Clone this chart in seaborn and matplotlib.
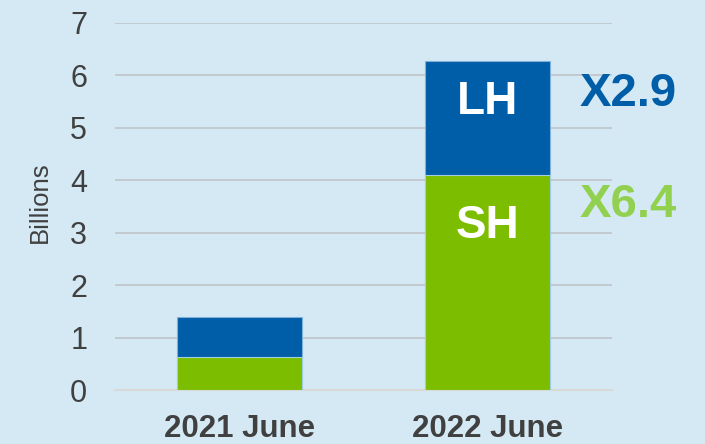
import matplotlib
matplotlib.use("Agg")
import matplotlib.pyplot as plt
import seaborn as sns
import pandas as pd

periods = ["2021 June", "2022 June"]
sh_values = [0.63, 4.10]
lh_values = [0.76, 2.18]
totals = [s + l for s, l in zip(sh_values, lh_values)]
growth_labels = ["X2.9", "X6.4"]
y_ticks = [0, 1, 2, 3, 4, 5, 6, 7]

BG = "#d4e9f4"
BLUE = "#005da8"
GREEN = "#7cbd00"
LIGHTGREEN = "#92d050"

sns.set_theme(style="white")
plt.rcParams["font.family"] = ["Liberation Sans", "DejaVu Sans"]

fig = plt.figure(figsize=(7.05, 4.44), dpi=100, facecolor=BG)
ax = fig.add_axes([0.163, 0.1216, 0.705, 0.8266])
ax.set_facecolor(BG)

df = pd.DataFrame({"period": periods, "SH": sh_values, "LH": lh_values, "total": totals})

sns.barplot(data=df, x="period", y="total", color=BLUE, width=0.504,
            errorbar=None, saturation=1, ax=ax, edgecolor="#7fb2d8", linewidth=0.8, zorder=3)
sns.barplot(data=df, x="period", y="SH", color=GREEN, width=0.504,
            errorbar=None, saturation=1, ax=ax, edgecolor="#9fcfe0", linewidth=0.8, zorder=3)

ax.set_xlim(-0.5, 1.5)
ax.set_ylim(0, 7)
ax.set_yticks(y_ticks)
ax.set_yticklabels([str(t) for t in y_ticks])
ax.yaxis.grid(True, color="#bfc4c8", linewidth=1.2, zorder=0)
ax.set_axisbelow(True)
for s in ["top", "right", "left"]:
    ax.spines[s].set_visible(False)
ax.spines["bottom"].set_color("#d9d9d9")
ax.spines["bottom"].set_linewidth(1.5)

ax.tick_params(axis="y", length=0, pad=20, labelsize=22, labelcolor="#404040")
ax.tick_params(axis="x", length=0, pad=17, labelsize=22.5, labelcolor="#404040")
for lbl in ax.get_xticklabels():
    lbl.set_fontweight("bold")

ax.set_xlabel("")
ax.set_ylabel("Billions", fontsize=18.5, color="#404040")
ax.yaxis.set_label_coords(-0.127, 0.512)

# segment labels inside the 2022 bar
ax.text(1, 5.49, "LH", color="white", fontsize=33,
        fontweight="bold", ha="center", va="center", zorder=5)
ax.text(1, 3.13, "SH", color="white", fontsize=33,
        fontweight="bold", ha="center", va="center", zorder=5)

# growth multipliers
ax.text(1.565, 5.65, growth_labels[0], color=BLUE, fontsize=34, fontweight="bold",
        ha="center", va="center", clip_on=False, zorder=5)
ax.text(1.565, 3.52, growth_labels[1], color=LIGHTGREEN, fontsize=34, fontweight="bold",
        ha="center", va="center", clip_on=False, zorder=5)

fig.savefig("out.png", dpi=100, facecolor=BG)
